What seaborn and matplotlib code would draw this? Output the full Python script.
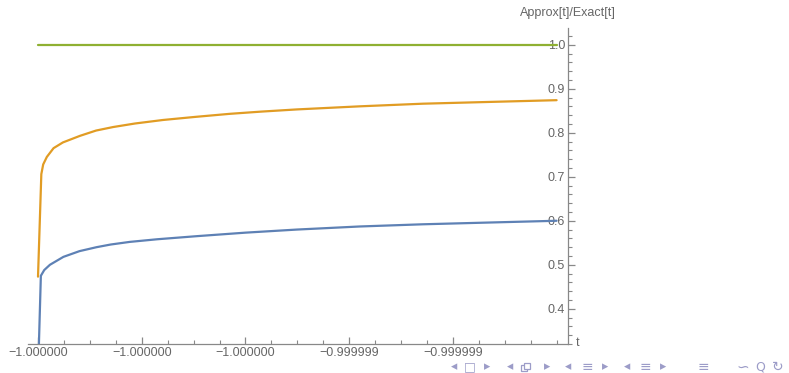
import matplotlib
matplotlib.use("Agg")
import numpy as np
import pandas as pd
import matplotlib.pyplot as plt
import seaborn as sns
from matplotlib.patches import Rectangle
from matplotlib.ticker import FixedLocator, FuncFormatter

# t 값은 -1 기준 오프셋 (1e-6 단위)
green_u = [0.0, 1.0]
green_v = [1.0, 1.0]

orange_u = [0.0, 0.0064, 0.010, 0.017, 0.030, 0.048, 0.081, 0.112, 0.145, 0.187, 0.241,
            0.303, 0.370, 0.430, 0.499, 0.620, 0.742, 0.870, 1.0]
orange_v = [0.473, 0.706, 0.728, 0.745, 0.765, 0.778, 0.793, 0.805, 0.813, 0.821, 0.829,
            0.836, 0.843, 0.848, 0.853, 0.860, 0.866, 0.870, 0.874]

blue_u = [0.0015, 0.0055, 0.012, 0.023, 0.049, 0.080, 0.113, 0.140, 0.177, 0.230, 0.306,
          0.400, 0.499, 0.620, 0.742, 0.870, 1.0]
blue_v = [0.31, 0.475, 0.488, 0.500, 0.518, 0.531, 0.540, 0.546, 0.552, 0.558, 0.565,
          0.573, 0.580, 0.587, 0.592, 0.596, 0.600]

x_major = [0.0, 0.2, 0.4, 0.6, 0.8]
y_major = [0.4, 0.5, 0.6, 0.7, 0.8, 0.9, 1.0]

sns.set_style("white")
plt.rcParams['font.family'] = ['Liberation Sans', 'DejaVu Sans']

fig = plt.figure(figsize=(7.89, 3.73), dpi=100)
ax = fig.add_axes([28 / 789, 29 / 373, 540 / 789, 316 / 373])

sns.lineplot(x=green_u, y=green_v, color="#8FB032", lw=1.6, ax=ax)
sns.lineplot(x=orange_u, y=orange_v, color="#E19C24", lw=1.6, ax=ax)
sns.lineplot(x=blue_u, y=blue_v, color="#5E81B5", lw=1.6, ax=ax)

ax.set_xlim(-0.0193, 1.022)
ax.set_ylim(0.32, 1.038)

gray = "#888888"
for s in ["top", "right"]:
    ax.spines[s].set_visible(False)
ax.spines["left"].set_position(("data", 1.022))
for s in ["left", "bottom"]:
    ax.spines[s].set_color(gray)
    ax.spines[s].set_linewidth(0.9)

ax.xaxis.set_major_locator(FixedLocator(x_major))
ax.xaxis.set_minor_locator(FixedLocator([k * 0.05 for k in range(21) if k % 4 != 0 or k == 20]))
ax.xaxis.set_major_formatter(FuncFormatter(lambda u, p: f"{-1 + u * 1e-6:.6f}".replace("-", "\u2212")))

ax.yaxis.set_major_locator(FixedLocator(y_major))
ax.yaxis.set_minor_locator(FixedLocator([round(0.32 + k * 0.02, 2) for k in range(36)]))
ax.yaxis.set_major_formatter(FuncFormatter(lambda v, p: f"{v:.1f}"))

ax.tick_params(which="both", direction="in", bottom=True, left=True, color=gray,
               labelcolor="#666666", labelsize=9)
ax.tick_params(which="major", length=5, width=0.9)
ax.tick_params(which="minor", length=3, width=0.8)
ax.tick_params(axis="x", pad=2)
ax.tick_params(axis="y", pad=2)
for t in (ax.xaxis.get_major_ticks() + ax.xaxis.get_minor_ticks()
          + ax.yaxis.get_major_ticks() + ax.yaxis.get_minor_ticks()):
    t.tick1line.set_clip_on(False)
ax.set_xlabel("")
ax.set_ylabel("")

fig.text(568 / 789, 1 - 13 / 373, "Approx[t]/Exact[t]", ha="center", va="center",
         fontsize=9, color="#666666")
fig.text(576 / 789, 1 - 343 / 373, "t", ha="left", va="center", fontsize=9, color="#666666")

# beamer 네비게이션 기호
nav = "#9c9cc8"
nav_items = [(454, "\u25c2", 9), (470, "\u25a1", 9), (487, "\u25b8", 9),
             (510, "\u25c2", 9), (547, "\u25b8", 9),
             (568, "\u25c2", 9), (587, "\u2261", 10), (605, "\u25b8", 9),
             (627, "\u25c2", 9), (645, "\u2261", 10), (663, "\u25b8", 9),
             (703, "\u2261", 10), (743, "\u223d", 11), (760, "Q", 9), (778, "\u21bb", 10)]
for px, ch, fs in nav_items:
    fig.text(px / 789, 1 - 367 / 373, ch, ha="center", va="center", fontsize=fs,
             color=nav, family=["DejaVu Sans"])

# ⧉ 기호는 설치된 글꼴에 없어서 두 개의 사각형으로 그림
for dx, dy in [(0, 0), (2.5, 2.5)]:
    fig.add_artist(Rectangle(((521 + dx) / 789, (373 - 371 + dy) / 373), 6 / 789, 6 / 373,
                             transform=fig.transFigure, fill=True, facecolor="white",
                             edgecolor=nav, lw=0.9))

fig.savefig("out.png", dpi=100)
